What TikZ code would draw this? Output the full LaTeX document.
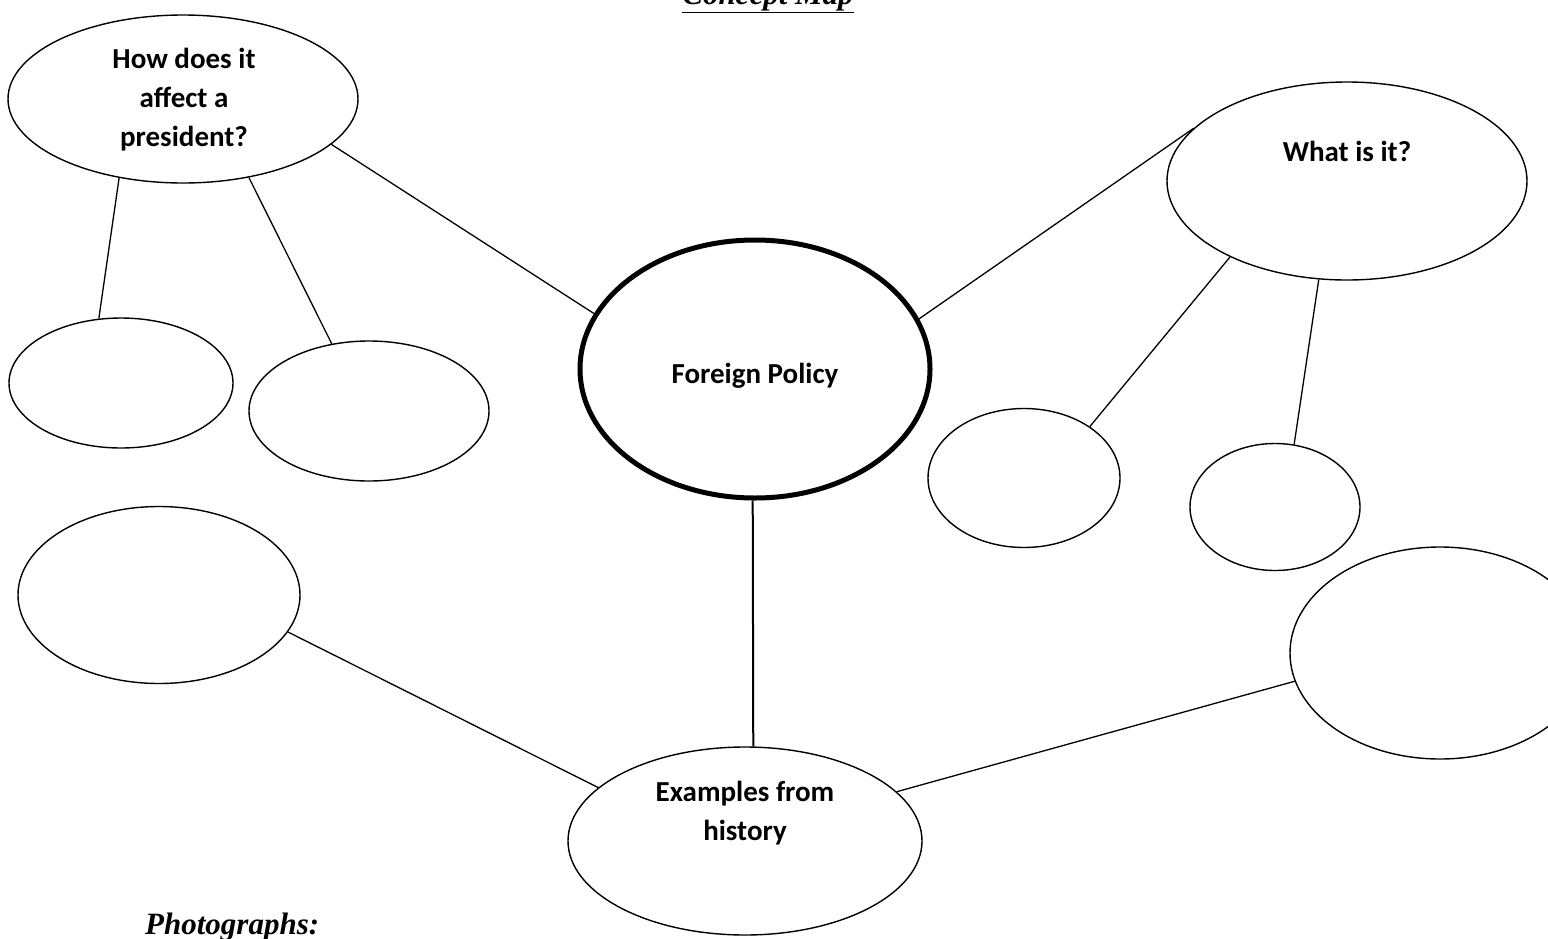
\documentclass[tikz,border=0pt]{standalone}
\usepackage{fontspec}
\setmainfont{Liberation Serif}
\newfontfamily\calib{Carlito}
\usetikzlibrary{shapes.geometric}
\begin{document}
\begin{tikzpicture}[x=1pt,y=-1pt,
  bub/.style={draw, ellipse, line width=1.4pt, inner sep=0pt},
  lbl/.style={font=\calib\bfseries\fontsize{29}{39}\selectfont, align=center, inner sep=0pt},
  link/.style={line width=1.3pt},
  head/.style={font=\bfseries\itshape\fontsize{31}{31}\selectfont, inner sep=0pt}]
\useasboundingbox (0,0) rectangle (1548,938);
% bubbles
\node[bub, minimum width=350pt, minimum height=168pt] (how) at (183,99) {};
\node[bub, minimum width=360pt, minimum height=198pt] (what) at (1347,181) {};
\node[bub, line width=5pt, minimum width=350pt, minimum height=258pt] (fp) at (755,369) {};
\node[bub, minimum width=224pt, minimum height=130pt] (l1) at (121,383) {};
\node[bub, minimum width=240pt, minimum height=140pt] (l2) at (369,411) {};
\node[bub, minimum width=192pt, minimum height=139pt] (r1) at (1024,478) {};
\node[bub, minimum width=170pt, minimum height=127pt] (r2) at (1275,507) {};
\node[bub, minimum width=282pt, minimum height=177pt] (ll) at (159,595) {};
\node[bub, minimum width=300pt, minimum height=212pt] (rl) at (1440,653) {};
\node[bub, minimum width=354pt, minimum height=188pt] (ex) at (745,841) {};
% texts
\node[lbl] (howt) at (184,100) {How does it\\affect a\\president?};
\node[lbl] (whatt) at (1347,151) {What is it?};
\node[lbl] (fpt) at (755,376) {Foreign Policy};
\node[lbl] (ext) at (745,813) {Examples from\\history};
\node[head, anchor=base] (title) at (768,4) {\underline{Concept Map}};
\node[head, anchor=base west] (photo) at (145,934) {Photographs:};
% connectors
\draw[link] (how.-17.5) -- (fp.161.3);
\draw[link] (how.-129) -- (l1.109.5);
\draw[link] (how.-50.4) -- (l2.119.8);
\draw[link] (fp.17.7) -- (what.161.9);
\draw[link] (what.-147.7) -- (r1.38);
\draw[link] (what.-106.3) -- (r2.73.6);
\draw[link, line width=2pt] (fp.-91) -- (ex.85);
\draw[link] (ll.-16.2) -- (ex.160.8);
\draw[link] (rl.-169.2) -- (ex.18.6);
\end{tikzpicture}
\end{document}
